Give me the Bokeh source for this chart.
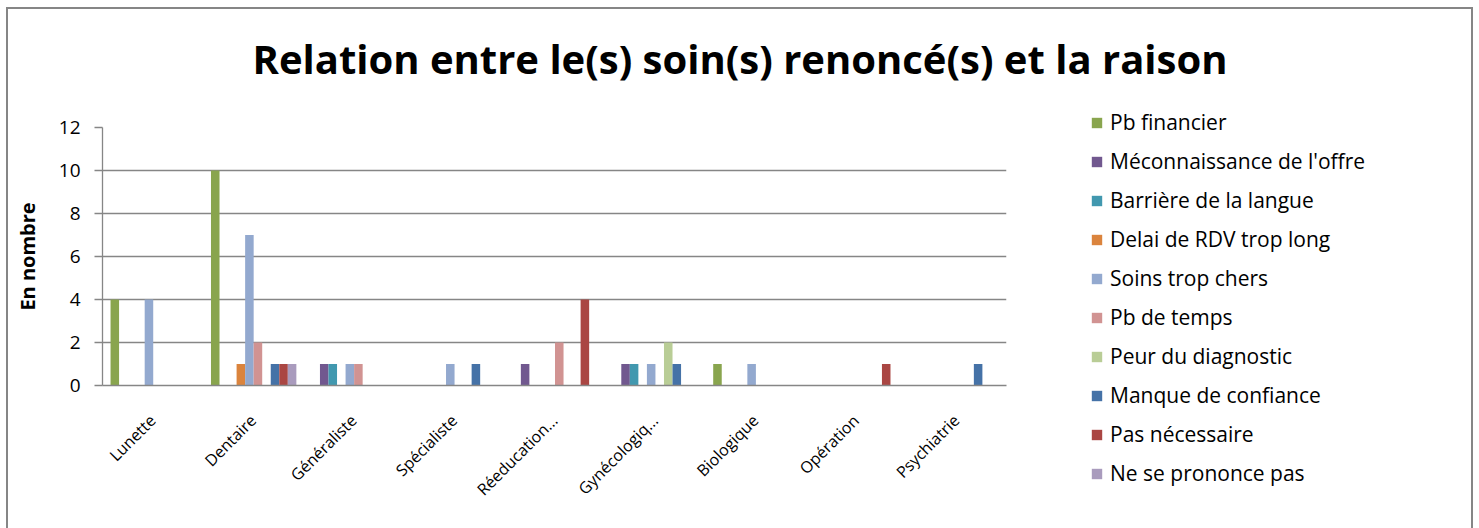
import math
from bokeh.plotting import figure
from bokeh.models import FactorRange, Range1d, Legend, LegendItem, Title, ColumnDataSource, FixedTicker
from bokeh.transform import dodge
from bokeh.embed import file_html
from bokeh.resources import INLINE

categories = ["Lunette", "Dentaire", "Généraliste", "Spécialiste", "Réeducation...",
              "Gynécologiq...", "Biologique", "Opération", "Psychiatrie"]

series_names = ["Pb financier", "Méconnaissance de l'offre", "Barrière de la langue",
                "Delai de RDV trop long", "Soins trop chers", "Pb de temps",
                "Peur du diagnostic", "Manque de confiance", "Pas nécessaire",
                "Ne se prononce pas"]

pb_financier   = [4, 10, 0, 0, 0, 0, 1, 0, 0]
meconnaissance = [0, 0, 1, 0, 1, 1, 0, 0, 0]
barriere       = [0, 0, 1, 0, 0, 1, 0, 0, 0]
delai_rdv      = [0, 1, 0, 0, 0, 0, 0, 0, 0]
soins_chers    = [4, 7, 1, 1, 0, 1, 1, 0, 0]
pb_temps       = [0, 2, 1, 0, 2, 0, 0, 0, 0]
peur_diag      = [0, 0, 0, 0, 0, 2, 0, 0, 0]
manque_conf    = [0, 1, 0, 1, 0, 1, 0, 0, 1]
pas_necessaire = [0, 1, 0, 0, 4, 0, 0, 1, 0]
ne_se_prononce = [0, 1, 0, 0, 0, 0, 0, 0, 0]

y_ticks = [0, 2, 4, 6, 8, 10, 12]

series_values = [pb_financier, meconnaissance, barriere, delai_rdv, soins_chers,
                 pb_temps, peur_diag, manque_conf, pas_necessaire, ne_se_prononce]
colors = ["#89A54E", "#71588F", "#4198AF", "#DB843D", "#93A9CF",
          "#D19392", "#B9CD96", "#4572A7", "#AA4643", "#A99BBD"]

data = {"cat": categories}
for i, vals in enumerate(series_values):
    data["s%d" % i] = vals
source = ColumnDataSource(data)

FONT = "Open Sans"
GRID = "#868686"

# ---------------- main chart ----------------
p = figure(width=1467, height=521, output_backend="svg", toolbar_location=None,
           x_range=FactorRange(*categories, range_padding=0),
           y_range=Range1d(0, 12),
           min_border_left=94, min_border_right=469, min_border_top=118, min_border_bottom=145)
p.styles = {"border-top": "2px solid #868686", "border-left": "2px solid #868686",
            "border-right": "2px solid #868686", "margin-left": "6px", "margin-top": "7px"}
p.outline_line_color = None

bar_w = 0.085
for i, name in enumerate(series_names):
    off = -0.42 + bar_w * (i + 0.5)
    p.vbar(x=dodge("cat", off, range=p.x_range), top="s%d" % i, width=bar_w,
           source=source, fill_color=colors[i], line_color=None)

p.yaxis.ticker = FixedTicker(ticks=y_ticks)
p.yaxis.axis_line_color = GRID
p.yaxis.axis_line_width = 1.3
p.yaxis.major_tick_line_color = GRID
p.yaxis.major_tick_line_width = 1.3
p.yaxis.major_tick_out = 8
p.yaxis.major_tick_in = 0
p.yaxis.minor_tick_line_color = None
p.yaxis.major_label_text_font = FONT
p.yaxis.major_label_text_font_size = "19px"
p.yaxis.major_label_text_color = "black"
p.yaxis.major_label_standoff = 14
p.yaxis.axis_label = "En nombre"
p.yaxis.axis_label_text_font = FONT
p.yaxis.axis_label_text_font_style = "bold"
p.yaxis.axis_label_text_font_size = "20px"
p.yaxis.axis_label_text_color = "black"
p.yaxis.axis_label_standoff = 15

p.xaxis.axis_line_color = GRID
p.xaxis.axis_line_width = 1.3
p.xaxis.major_tick_line_color = None
p.xaxis.minor_tick_line_color = None
p.xaxis.major_label_orientation = math.pi / 4
p.xaxis.major_label_text_font = FONT
p.xaxis.major_label_text_font_size = "16px"
p.xaxis.major_label_text_color = "black"
p.xaxis.major_label_standoff = 26

p.xgrid.grid_line_color = None
p.ygrid.grid_line_color = GRID
p.ygrid.grid_line_width = 1.3

spacer = Title(text=" ", text_font_size="22px")
p.add_layout(spacer, "above")
title = Title(text="Relation entre le(s) soin(s) renoncé(s) et la raison",
              align="left", offset=150,
              text_font=FONT, text_font_style="bold", text_font_size="40px",
              text_color="black")
p.add_layout(title, "above")

# ---------------- legend (separate transparent figure placed over the right side) ----------------
pl = figure(width=370, height=392, output_backend="svg", toolbar_location=None,
            title=None,
            x_range=FactorRange(*categories), y_range=Range1d(0, 12),
            x_axis_location=None, y_axis_location=None, min_border=0)
pl.outline_line_color = None
pl.grid.grid_line_color = None
pl.background_fill_alpha = 0
pl.border_fill_alpha = 0
pl.styles = {"position": "absolute", "left": "1090px", "top": "108px"}
items = []
for i, name in enumerate(series_names):
    r = pl.vbar(x="cat", top="s%d" % i, width=0.1, source=source,
                fill_color=colors[i], line_color=None, visible=False)
    items.append(LegendItem(label=name, renderers=[r]))
legend = Legend(items=items, location="top_left", padding=0, margin=0,
                border_line_color=None, background_fill_alpha=0,
                glyph_width=13, glyph_height=13, label_standoff=7,
                label_height=28, spacing=11,
                label_text_font=FONT, label_text_font_size="21px",
                label_text_color="black")
pl.add_layout(legend, "center")

open("out.html", "w").write(file_html([p, pl], INLINE))
